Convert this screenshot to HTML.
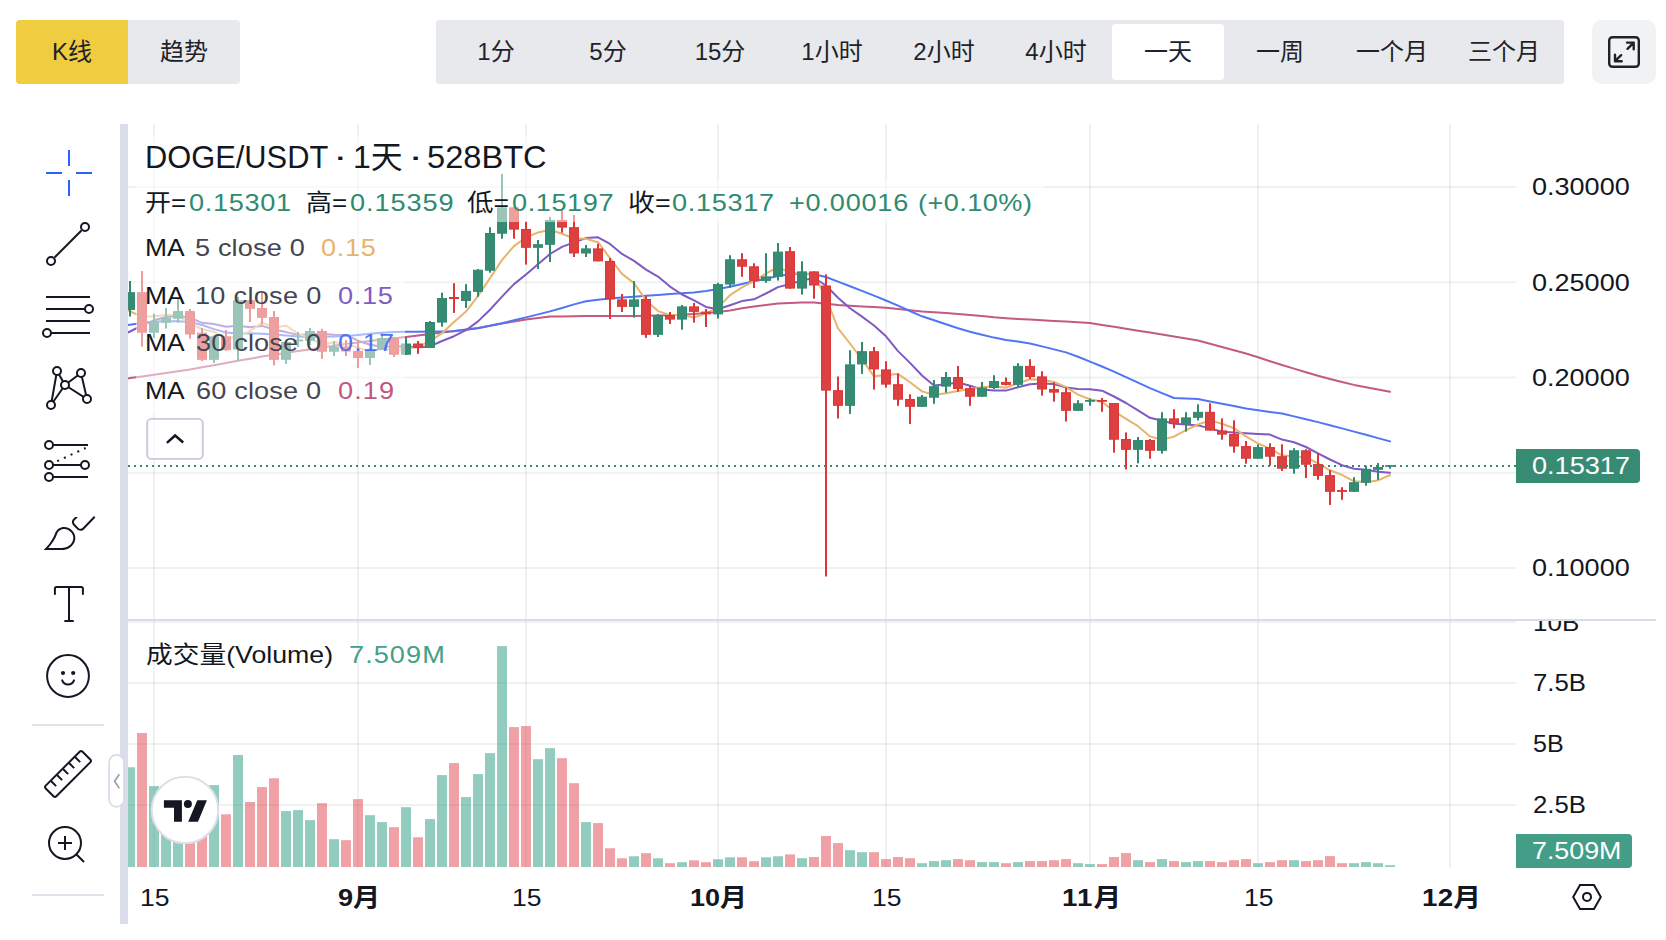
<!DOCTYPE html>
<html lang="zh"><head><meta charset="utf-8"><title>DOGE/USDT</title>
<style>
html,body{margin:0;padding:0;background:#fff}
body{width:1666px;height:940px;position:relative;overflow:hidden;font-family:"Liberation Sans","Noto Sans CJK SC",sans-serif}
.t{position:absolute;white-space:nowrap;line-height:1.149;transform-origin:0 0}
.tc{text-align:center}
.grp{position:absolute;display:flex;background:#e8e9ed;border-radius:4px;}
.btn{height:64px;box-sizing:border-box;padding-bottom:0px;display:flex;align-items:center;justify-content:center;font-size:24px;line-height:28px;color:#1e2329;position:relative}
.sel{position:absolute;left:0;top:4px;width:112px;height:56px;box-sizing:border-box;padding-bottom:0px;background:#fff;border-radius:4px;display:flex;align-items:center;justify-content:center}
svg{display:block}
</style></head><body>
<div class="grp" style="left:16px;top:20px;width:224px;height:64px"><div class="btn" style="width:112px;background:#f0cc40;border-radius:4px 0 0 4px">K线</div><div class="btn" style="width:112px">趋势</div></div><div class="grp" style="left:436px;top:20px;width:1128px;height:64px;padding:0 4px;box-sizing:border-box"><div class="btn" style="width:112px">1分</div><div class="btn" style="width:112px">5分</div><div class="btn" style="width:112px">15分</div><div class="btn" style="width:112px">1小时</div><div class="btn" style="width:112px">2小时</div><div class="btn" style="width:112px">4小时</div><div class="btn" style="width:112px"><span class="sel">一天</span></div><div class="btn" style="width:112px">一周</div><div class="btn" style="width:112px">一个月</div><div class="btn" style="width:112px">三个月</div></div><div style="position:absolute;left:1592px;top:20px;width:64px;height:64px;border-radius:10px;background:#f1f2f4"><svg width="64" height="64" viewBox="0 0 64 64" style="position:absolute;left:0;top:0"><g fill="none" stroke="#1e2329" stroke-width="2.4" stroke-linecap="round" stroke-linejoin="round"><rect x="17.2" y="17.2" width="29.6" height="29.6" rx="3.2"/><path d="M35.5 28.8L41.7 22.6M35 22.6H41.7V29.3"/><path d="M29.2 35.2L23 41.2M23 34.8V41.2H29.7"/></g></svg></div>
<svg width="1666" height="940" viewBox="0 0 1666 940" style="position:absolute;left:0;top:0">
<defs><clipPath id="pane"><rect x="128" y="124" width="1388" height="744"/></clipPath></defs>
<rect x="128" y="186.0" width="1388" height="2" fill="rgba(0,35,35,0.058)"/>
<rect x="128" y="281.2" width="1388" height="2" fill="rgba(0,35,35,0.058)"/>
<rect x="128" y="376.5" width="1388" height="2" fill="rgba(0,35,35,0.058)"/>
<rect x="128" y="471.8" width="1388" height="2" fill="rgba(0,35,35,0.058)"/>
<rect x="128" y="567.0" width="1388" height="2" fill="rgba(0,35,35,0.058)"/>
<rect x="128" y="621.0" width="1388" height="2" fill="rgba(0,35,35,0.058)"/>
<rect x="128" y="682.0" width="1388" height="2" fill="rgba(0,35,35,0.058)"/>
<rect x="128" y="743.0" width="1388" height="2" fill="rgba(0,35,35,0.058)"/>
<rect x="128" y="804.0" width="1388" height="2" fill="rgba(0,35,35,0.058)"/>
<rect x="153" y="124" width="2" height="744" fill="rgba(0,35,35,0.058)"/>
<rect x="357" y="124" width="2" height="744" fill="rgba(0,35,35,0.058)"/>
<rect x="525" y="124" width="2" height="744" fill="rgba(0,35,35,0.058)"/>
<rect x="717" y="124" width="2" height="744" fill="rgba(0,35,35,0.058)"/>
<rect x="885" y="124" width="2" height="744" fill="rgba(0,35,35,0.058)"/>
<rect x="1089" y="124" width="2" height="744" fill="rgba(0,35,35,0.058)"/>
<rect x="1257" y="124" width="2" height="744" fill="rgba(0,35,35,0.058)"/>
<rect x="1449" y="124" width="2" height="744" fill="rgba(0,35,35,0.058)"/>
<g clip-path="url(#pane)">
<polyline points="118,379.9 130,378.1 142,376.4 154,374.7 166,373.0 178,371.3 190,369.5 202,367.3 214,365.2 226,363.0 238,360.8 250,358.7 262,356.6 274,354.7 286,352.9 298,351.1 310,349.4 322,347.6 334,345.8 346,344.0 358,342.5 370,341.0 382,339.6 394,338.2 406,336.9 418,335.5 430,334.1 442,332.6 454,331.1 466,329.5 478,328.0 490,325.8 502,323.6 514,321.5 526,319.5 538,318.0 550,316.6 562,316.4 574,316.2 586,316.1 598,316.1 610,316.0 622,316.0 634,316.0 646,315.7 658,315.5 670,315.2 682,314.7 694,313.9 706,313.0 718,311.9 730,310.4 742,308.3 754,306.4 766,305.0 778,303.6 790,303.0 802,302.6 814,302.4 826,303.7 838,304.9 850,305.7 862,306.4 874,307.0 886,307.8 898,309.0 910,310.2 922,311.4 934,312.2 946,313.0 958,313.9 970,314.9 982,316.1 994,317.3 1006,318.2 1018,318.9 1030,319.6 1042,320.3 1054,321.0 1066,321.6 1078,322.3 1090,323.0 1102,324.9 1114,326.8 1126,328.8 1138,330.7 1150,332.6 1162,334.5 1174,336.5 1186,338.4 1198,340.5 1210,343.8 1222,347.0 1234,350.3 1246,353.5 1258,357.3 1270,361.2 1282,365.0 1294,368.6 1306,372.2 1318,375.8 1330,379.0 1342,382.0 1354,384.9 1366,387.3 1378,389.6 1390,391.8" fill="none" stroke="#c35a84" stroke-width="2" stroke-linejoin="round" stroke-linecap="round"/>
<polyline points="118,326.5 130,324.8 142,323.0 154,321.6 166,321.2 178,321.3 190,322.0 202,325.0 214,329.1 226,332.5 238,333.5 250,333.3 262,333.8 274,334.4 286,335.4 298,336.6 310,336.9 322,336.8 334,336.4 346,335.9 358,334.9 370,333.8 382,332.8 394,332.1 406,331.7 418,331.7 430,331.6 442,331.5 454,331.2 466,329.7 478,328.2 490,325.8 502,323.2 514,320.3 526,317.4 538,314.4 550,311.4 562,308.0 574,304.4 586,301.2 598,299.7 610,298.5 622,297.6 634,296.7 646,295.8 658,294.9 670,294.1 682,293.2 694,292.4 706,291.0 718,289.0 730,286.7 742,284.0 754,281.3 766,278.7 778,276.1 790,274.3 802,273.6 814,274.2 826,277.0 838,281.6 850,286.2 862,290.9 874,295.6 886,300.5 898,305.7 910,311.0 922,316.3 934,320.3 946,324.3 958,328.3 970,331.7 982,334.7 994,337.6 1006,339.9 1018,341.6 1030,343.5 1042,346.4 1054,349.4 1066,352.4 1078,356.7 1090,361.6 1102,366.5 1114,371.6 1126,377.1 1138,382.6 1150,388.1 1162,393.1 1174,398.0 1186,398.5 1198,399.0 1210,401.4 1222,403.8 1234,406.1 1246,408.5 1258,410.2 1270,411.9 1282,413.5 1294,416.4 1306,419.2 1318,422.1 1330,425.2 1342,428.4 1354,431.6 1366,434.8 1378,438.1 1390,441.4" fill="none" stroke="#5076f5" stroke-width="2" stroke-linejoin="round" stroke-linecap="round"/>
<polyline points="118,337.0 130,331.5 142,325.5 154,320.3 166,317.0 178,315.9 190,317.6 202,322.8 214,324.1 226,326.8 238,325.7 250,327.3 262,325.9 274,329.6 286,332.1 298,334.9 310,334.6 322,333.8 334,334.8 346,334.9 358,340.7 370,344.8 382,346.8 394,346.3 406,346.4 418,347.3 430,346.4 442,341.0 454,336.2 466,330.2 478,321.4 490,309.7 502,296.6 514,284.1 526,274.5 538,264.2 550,254.0 562,246.9 574,242.4 586,238.1 598,237.3 610,243.9 622,253.9 634,260.9 646,269.6 658,276.6 670,286.6 682,294.5 694,300.3 706,306.9 718,309.2 730,305.2 742,301.1 754,299.3 766,293.5 778,287.1 790,284.0 802,280.5 814,277.9 826,285.5 838,297.7 850,308.2 862,316.6 874,325.5 886,336.3 898,351.1 910,362.9 922,375.5 934,385.5 946,384.2 958,382.5 970,385.7 982,389.4 994,390.5 1006,390.6 1018,387.2 1030,384.2 1042,383.5 1054,384.1 1066,387.5 1078,388.9 1090,389.3 1102,390.7 1114,396.5 1126,403.0 1138,410.4 1150,417.8 1162,420.7 1174,423.8 1186,424.5 1198,425.4 1210,428.4 1222,431.7 1234,432.4 1246,433.3 1258,434.0 1270,434.6 1282,439.6 1294,442.2 1306,447.0 1318,453.4 1330,459.5 1342,465.2 1354,468.8 1366,469.8 1378,471.8 1390,472.7" fill="none" stroke="#805ac2" stroke-width="2" stroke-linejoin="round" stroke-linecap="round"/>
<polyline points="118,306.7 130,311.5 142,316.5 154,316.3 166,315.1 178,315.1 190,323.6 202,329.0 214,331.9 226,338.4 238,336.2 250,331.1 262,322.7 274,327.4 286,325.7 298,333.6 310,338.0 322,344.8 334,342.2 346,344.1 358,347.8 370,351.5 382,348.8 394,350.4 406,348.8 418,346.8 430,341.2 442,333.2 454,322.1 466,311.6 478,295.9 490,278.1 502,260.0 514,246.1 526,237.5 538,232.4 550,229.8 562,233.8 574,238.6 586,238.7 598,242.2 610,258.1 622,273.9 634,283.1 646,300.4 658,311.1 670,315.1 682,315.0 694,317.5 706,313.4 718,307.3 730,295.2 742,287.3 754,281.1 766,273.5 778,267.0 790,272.8 802,273.8 814,274.7 826,297.5 838,328.4 850,343.5 862,359.5 874,376.3 886,375.1 898,373.9 910,382.3 922,391.4 934,394.8 946,393.3 958,391.1 970,389.1 982,387.3 994,386.3 1006,387.8 1018,383.2 1030,379.3 1042,379.7 1054,382.0 1066,387.2 1078,394.6 1090,399.2 1102,401.7 1114,411.1 1126,418.9 1138,426.2 1150,436.4 1162,439.7 1174,436.6 1186,430.1 1198,424.5 1210,420.4 1222,423.7 1234,428.2 1246,436.4 1258,443.5 1270,448.7 1282,455.5 1294,456.3 1306,457.5 1318,463.3 1330,470.3 1342,474.9 1354,481.3 1366,482.1 1378,480.4 1390,475.0" fill="none" stroke="#e8b46c" stroke-width="2" stroke-linejoin="round" stroke-linecap="round"/>
<rect x="129" y="281.0" width="2" height="35.5" fill="#318a70"/>
<rect x="125.5" y="292.7" width="9" height="16.7" fill="#388b73" stroke="#318a70" stroke-width="1"/>
<rect x="141" y="271.0" width="2" height="75.6" fill="#dc3636"/>
<rect x="137.5" y="292.7" width="9" height="39.5" fill="#dd4040" stroke="#dc3636" stroke-width="1"/>
<rect x="153" y="313.8" width="2" height="24.2" fill="#318a70"/>
<rect x="149.5" y="322.4" width="9" height="9.8" fill="#388b73" stroke="#318a70" stroke-width="1"/>
<rect x="165" y="308.0" width="2" height="20.6" fill="#318a70"/>
<rect x="161.5" y="318.3" width="9" height="4.0" fill="#388b73" stroke="#318a70" stroke-width="1"/>
<rect x="177" y="298.5" width="2" height="24.3" fill="#318a70"/>
<rect x="173.5" y="311.6" width="9" height="6.6" fill="#388b73" stroke="#318a70" stroke-width="1"/>
<rect x="189" y="309.0" width="2" height="29.7" fill="#dc3636"/>
<rect x="185.5" y="311.6" width="9" height="22.4" fill="#dd4040" stroke="#dc3636" stroke-width="1"/>
<rect x="201" y="328.0" width="2" height="33.0" fill="#dc3636"/>
<rect x="197.5" y="333.2" width="9" height="26.1" fill="#dd4040" stroke="#dc3636" stroke-width="1"/>
<rect x="213" y="335.4" width="2" height="27.6" fill="#318a70"/>
<rect x="209.5" y="336.8" width="9" height="22.5" fill="#388b73" stroke="#318a70" stroke-width="1"/>
<rect x="225" y="330.0" width="2" height="20.7" fill="#dc3636"/>
<rect x="221.5" y="336.8" width="9" height="12.9" fill="#dd4040" stroke="#dc3636" stroke-width="1"/>
<rect x="237" y="296.7" width="2" height="64.3" fill="#318a70"/>
<rect x="233.5" y="300.8" width="9" height="48.2" fill="#388b73" stroke="#318a70" stroke-width="1"/>
<rect x="249" y="299.4" width="2" height="22.5" fill="#dc3636"/>
<rect x="245.5" y="300.8" width="9" height="7.5" fill="#dd4040" stroke="#dc3636" stroke-width="1"/>
<rect x="261" y="292.0" width="2" height="32.6" fill="#dc3636"/>
<rect x="257.5" y="308.5" width="9" height="8.8" fill="#dd4040" stroke="#dc3636" stroke-width="1"/>
<rect x="273" y="311.0" width="2" height="54.5" fill="#dc3636"/>
<rect x="269.5" y="317.5" width="9" height="41.8" fill="#dd4040" stroke="#dc3636" stroke-width="1"/>
<rect x="285" y="340.8" width="2" height="23.1" fill="#318a70"/>
<rect x="281.5" y="342.5" width="9" height="16.8" fill="#388b73" stroke="#318a70" stroke-width="1"/>
<rect x="297" y="332.0" width="2" height="15.0" fill="#318a70"/>
<rect x="293.5" y="340.1" width="9" height="0.8" fill="#388b73" stroke="#318a70" stroke-width="1"/>
<rect x="309" y="328.0" width="2" height="17.0" fill="#318a70"/>
<rect x="305.5" y="331.5" width="9" height="8.8" fill="#388b73" stroke="#318a70" stroke-width="1"/>
<rect x="321" y="328.8" width="2" height="30.1" fill="#dc3636"/>
<rect x="317.5" y="331.5" width="9" height="19.7" fill="#dd4040" stroke="#dc3636" stroke-width="1"/>
<rect x="333" y="341.0" width="2" height="15.0" fill="#318a70"/>
<rect x="329.5" y="347.1" width="9" height="4.1" fill="#388b73" stroke="#318a70" stroke-width="1"/>
<rect x="345" y="340.0" width="2" height="16.0" fill="#dc3636"/>
<rect x="341.5" y="347.1" width="9" height="3.9" fill="#dd4040" stroke="#dc3636" stroke-width="1"/>
<rect x="357" y="340.8" width="2" height="27.1" fill="#dc3636"/>
<rect x="353.5" y="351.5" width="9" height="6.0" fill="#dd4040" stroke="#dc3636" stroke-width="1"/>
<rect x="369" y="348.0" width="2" height="17.0" fill="#318a70"/>
<rect x="365.5" y="350.3" width="9" height="7.2" fill="#388b73" stroke="#318a70" stroke-width="1"/>
<rect x="381" y="332.7" width="2" height="17.3" fill="#318a70"/>
<rect x="377.5" y="338.5" width="9" height="10.8" fill="#388b73" stroke="#318a70" stroke-width="1"/>
<rect x="393" y="337.0" width="2" height="20.0" fill="#dc3636"/>
<rect x="389.5" y="338.5" width="9" height="15.7" fill="#dd4040" stroke="#dc3636" stroke-width="1"/>
<rect x="405" y="337.0" width="2" height="18.0" fill="#318a70"/>
<rect x="401.5" y="344.0" width="9" height="10.2" fill="#388b73" stroke="#318a70" stroke-width="1"/>
<rect x="417" y="341.0" width="2" height="12.8" fill="#dc3636"/>
<rect x="413.5" y="344.0" width="9" height="3.5" fill="#dd4040" stroke="#dc3636" stroke-width="1"/>
<rect x="429" y="321.0" width="2" height="27.0" fill="#318a70"/>
<rect x="425.5" y="322.5" width="9" height="24.9" fill="#388b73" stroke="#318a70" stroke-width="1"/>
<rect x="441" y="292.7" width="2" height="34.0" fill="#318a70"/>
<rect x="437.5" y="298.5" width="9" height="23.6" fill="#388b73" stroke="#318a70" stroke-width="1"/>
<rect x="453" y="283.2" width="2" height="29.7" fill="#dc3636"/>
<rect x="449.5" y="297.5" width="9" height="1.0" fill="#dd4040" stroke="#dc3636" stroke-width="1"/>
<rect x="465" y="284.2" width="2" height="23.7" fill="#318a70"/>
<rect x="461.5" y="291.4" width="9" height="9.1" fill="#388b73" stroke="#318a70" stroke-width="1"/>
<rect x="477" y="269.0" width="2" height="27.7" fill="#318a70"/>
<rect x="473.5" y="270.2" width="9" height="21.2" fill="#388b73" stroke="#318a70" stroke-width="1"/>
<rect x="489" y="227.2" width="2" height="45.5" fill="#318a70"/>
<rect x="485.5" y="233.5" width="9" height="36.7" fill="#388b73" stroke="#318a70" stroke-width="1"/>
<rect x="501" y="174.0" width="2" height="64.7" fill="#318a70"/>
<rect x="497.5" y="207.9" width="9" height="25.3" fill="#388b73" stroke="#318a70" stroke-width="1"/>
<rect x="513" y="207.4" width="2" height="31.3" fill="#dc3636"/>
<rect x="509.5" y="207.9" width="9" height="21.2" fill="#dd4040" stroke="#dc3636" stroke-width="1"/>
<rect x="525" y="221.5" width="2" height="43.1" fill="#dc3636"/>
<rect x="521.5" y="229.5" width="9" height="17.8" fill="#dd4040" stroke="#dc3636" stroke-width="1"/>
<rect x="537" y="240.0" width="2" height="29.0" fill="#318a70"/>
<rect x="533.5" y="244.7" width="9" height="2.6" fill="#388b73" stroke="#318a70" stroke-width="1"/>
<rect x="549" y="217.0" width="2" height="45.0" fill="#318a70"/>
<rect x="545.5" y="220.5" width="9" height="23.8" fill="#388b73" stroke="#318a70" stroke-width="1"/>
<rect x="561" y="210.0" width="2" height="22.7" fill="#dc3636"/>
<rect x="557.5" y="220.5" width="9" height="6.6" fill="#dd4040" stroke="#dc3636" stroke-width="1"/>
<rect x="573" y="214.9" width="2" height="42.1" fill="#dc3636"/>
<rect x="569.5" y="227.7" width="9" height="25.3" fill="#dd4040" stroke="#dc3636" stroke-width="1"/>
<rect x="585" y="245.0" width="2" height="12.0" fill="#318a70"/>
<rect x="581.5" y="248.9" width="9" height="4.1" fill="#388b73" stroke="#318a70" stroke-width="1"/>
<rect x="597" y="243.8" width="2" height="17.6" fill="#dc3636"/>
<rect x="593.5" y="248.9" width="9" height="12.0" fill="#dd4040" stroke="#dc3636" stroke-width="1"/>
<rect x="609" y="258.0" width="2" height="61.0" fill="#dc3636"/>
<rect x="605.5" y="261.5" width="9" height="37.4" fill="#dd4040" stroke="#dc3636" stroke-width="1"/>
<rect x="621" y="294.0" width="2" height="18.0" fill="#dc3636"/>
<rect x="617.5" y="299.9" width="9" height="6.5" fill="#dd4040" stroke="#dc3636" stroke-width="1"/>
<rect x="633" y="281.0" width="2" height="36.6" fill="#318a70"/>
<rect x="629.5" y="299.9" width="9" height="6.5" fill="#388b73" stroke="#318a70" stroke-width="1"/>
<rect x="645" y="296.3" width="2" height="41.5" fill="#dc3636"/>
<rect x="641.5" y="299.5" width="9" height="34.8" fill="#dd4040" stroke="#dc3636" stroke-width="1"/>
<rect x="657" y="314.0" width="2" height="23.0" fill="#318a70"/>
<rect x="653.5" y="315.5" width="9" height="18.8" fill="#388b73" stroke="#318a70" stroke-width="1"/>
<rect x="669" y="312.0" width="2" height="12.0" fill="#dc3636"/>
<rect x="665.5" y="315.5" width="9" height="3.6" fill="#dd4040" stroke="#dc3636" stroke-width="1"/>
<rect x="681" y="305.0" width="2" height="24.7" fill="#318a70"/>
<rect x="677.5" y="306.9" width="9" height="12.2" fill="#388b73" stroke="#318a70" stroke-width="1"/>
<rect x="693" y="303.0" width="2" height="19.6" fill="#dc3636"/>
<rect x="689.5" y="306.9" width="9" height="4.5" fill="#dd4040" stroke="#dc3636" stroke-width="1"/>
<rect x="705" y="309.0" width="2" height="18.0" fill="#dc3636"/>
<rect x="701.5" y="312.1" width="9" height="1.7" fill="#dd4040" stroke="#dc3636" stroke-width="1"/>
<rect x="717" y="282.9" width="2" height="35.6" fill="#318a70"/>
<rect x="713.5" y="284.6" width="9" height="29.3" fill="#388b73" stroke="#318a70" stroke-width="1"/>
<rect x="729" y="255.2" width="2" height="32.4" fill="#318a70"/>
<rect x="725.5" y="259.8" width="9" height="24.2" fill="#388b73" stroke="#318a70" stroke-width="1"/>
<rect x="741" y="253.2" width="2" height="23.6" fill="#dc3636"/>
<rect x="737.5" y="259.8" width="9" height="6.4" fill="#dd4040" stroke="#dc3636" stroke-width="1"/>
<rect x="753" y="263.3" width="2" height="24.7" fill="#dc3636"/>
<rect x="749.5" y="266.8" width="9" height="13.6" fill="#dd4040" stroke="#dc3636" stroke-width="1"/>
<rect x="765" y="253.2" width="2" height="29.7" fill="#318a70"/>
<rect x="761.5" y="276.9" width="9" height="3.5" fill="#388b73" stroke="#318a70" stroke-width="1"/>
<rect x="777" y="243.0" width="2" height="37.5" fill="#318a70"/>
<rect x="773.5" y="252.1" width="9" height="24.2" fill="#388b73" stroke="#318a70" stroke-width="1"/>
<rect x="789" y="247.0" width="2" height="41.6" fill="#dc3636"/>
<rect x="785.5" y="251.7" width="9" height="36.4" fill="#dd4040" stroke="#dc3636" stroke-width="1"/>
<rect x="801" y="261.3" width="2" height="33.3" fill="#318a70"/>
<rect x="797.5" y="271.9" width="9" height="16.2" fill="#388b73" stroke="#318a70" stroke-width="1"/>
<rect x="813" y="271.4" width="2" height="27.3" fill="#dc3636"/>
<rect x="809.5" y="271.9" width="9" height="13.1" fill="#dd4040" stroke="#dc3636" stroke-width="1"/>
<rect x="825" y="274.4" width="2" height="302.1" fill="#dc3636"/>
<rect x="821.5" y="286.0" width="9" height="104.1" fill="#dd4040" stroke="#dc3636" stroke-width="1"/>
<rect x="837" y="376.5" width="2" height="42.0" fill="#dc3636"/>
<rect x="833.5" y="390.7" width="9" height="14.6" fill="#dd4040" stroke="#dc3636" stroke-width="1"/>
<rect x="849" y="350.2" width="2" height="63.7" fill="#318a70"/>
<rect x="845.5" y="364.9" width="9" height="40.4" fill="#388b73" stroke="#318a70" stroke-width="1"/>
<rect x="861" y="342.0" width="2" height="31.9" fill="#318a70"/>
<rect x="857.5" y="351.7" width="9" height="12.2" fill="#388b73" stroke="#318a70" stroke-width="1"/>
<rect x="873" y="347.0" width="2" height="42.6" fill="#dc3636"/>
<rect x="869.5" y="351.7" width="9" height="17.2" fill="#dd4040" stroke="#dc3636" stroke-width="1"/>
<rect x="885" y="361.3" width="2" height="26.3" fill="#dc3636"/>
<rect x="881.5" y="369.9" width="9" height="14.2" fill="#dd4040" stroke="#dc3636" stroke-width="1"/>
<rect x="897" y="373.5" width="2" height="32.3" fill="#dc3636"/>
<rect x="893.5" y="384.7" width="9" height="14.5" fill="#dd4040" stroke="#dc3636" stroke-width="1"/>
<rect x="909" y="394.3" width="2" height="29.7" fill="#dc3636"/>
<rect x="905.5" y="399.5" width="9" height="6.8" fill="#dd4040" stroke="#dc3636" stroke-width="1"/>
<rect x="921" y="395.0" width="2" height="11.8" fill="#318a70"/>
<rect x="917.5" y="397.2" width="9" height="9.1" fill="#388b73" stroke="#318a70" stroke-width="1"/>
<rect x="933" y="380.0" width="2" height="23.8" fill="#318a70"/>
<rect x="929.5" y="386.7" width="9" height="10.5" fill="#388b73" stroke="#318a70" stroke-width="1"/>
<rect x="945" y="372.0" width="2" height="20.7" fill="#318a70"/>
<rect x="941.5" y="377.5" width="9" height="8.6" fill="#388b73" stroke="#318a70" stroke-width="1"/>
<rect x="957" y="366.0" width="2" height="25.7" fill="#dc3636"/>
<rect x="953.5" y="377.5" width="9" height="11.0" fill="#dd4040" stroke="#dc3636" stroke-width="1"/>
<rect x="969" y="385.6" width="2" height="20.2" fill="#dc3636"/>
<rect x="965.5" y="388.7" width="9" height="7.5" fill="#dd4040" stroke="#dc3636" stroke-width="1"/>
<rect x="981" y="382.0" width="2" height="14.7" fill="#318a70"/>
<rect x="977.5" y="388.1" width="9" height="8.1" fill="#388b73" stroke="#318a70" stroke-width="1"/>
<rect x="993" y="375.2" width="2" height="13.8" fill="#318a70"/>
<rect x="989.5" y="381.5" width="9" height="6.0" fill="#388b73" stroke="#318a70" stroke-width="1"/>
<rect x="1005" y="377.4" width="2" height="8.1" fill="#dc3636"/>
<rect x="1001.5" y="382.5" width="9" height="1.9" fill="#dd4040" stroke="#dc3636" stroke-width="1"/>
<rect x="1017" y="363.2" width="2" height="23.7" fill="#318a70"/>
<rect x="1013.5" y="366.4" width="9" height="18.0" fill="#388b73" stroke="#318a70" stroke-width="1"/>
<rect x="1029" y="359.2" width="2" height="19.8" fill="#dc3636"/>
<rect x="1025.5" y="366.4" width="9" height="10.1" fill="#dd4040" stroke="#dc3636" stroke-width="1"/>
<rect x="1041" y="371.3" width="2" height="24.3" fill="#dc3636"/>
<rect x="1037.5" y="376.9" width="9" height="12.1" fill="#dd4040" stroke="#dc3636" stroke-width="1"/>
<rect x="1053" y="382.4" width="2" height="19.3" fill="#dc3636"/>
<rect x="1049.5" y="389.6" width="9" height="2.5" fill="#dd4040" stroke="#dc3636" stroke-width="1"/>
<rect x="1065" y="387.5" width="2" height="34.0" fill="#dc3636"/>
<rect x="1061.5" y="392.7" width="9" height="17.6" fill="#dd4040" stroke="#dc3636" stroke-width="1"/>
<rect x="1077" y="400.2" width="2" height="10.6" fill="#318a70"/>
<rect x="1073.5" y="403.8" width="9" height="6.5" fill="#388b73" stroke="#318a70" stroke-width="1"/>
<rect x="1089" y="398.6" width="2" height="7.1" fill="#318a70"/>
<rect x="1085.5" y="400.5" width="9" height="0.7" fill="#388b73" stroke="#318a70" stroke-width="1"/>
<rect x="1101" y="398.0" width="2" height="13.8" fill="#dc3636"/>
<rect x="1097.5" y="400.5" width="9" height="0.7" fill="#dd4040" stroke="#dc3636" stroke-width="1"/>
<rect x="1113" y="403.0" width="2" height="49.6" fill="#dc3636"/>
<rect x="1109.5" y="403.5" width="9" height="35.7" fill="#dd4040" stroke="#dc3636" stroke-width="1"/>
<rect x="1125" y="432.4" width="2" height="37.0" fill="#dc3636"/>
<rect x="1121.5" y="439.5" width="9" height="9.8" fill="#dd4040" stroke="#dc3636" stroke-width="1"/>
<rect x="1137" y="437.0" width="2" height="26.3" fill="#318a70"/>
<rect x="1133.5" y="440.5" width="9" height="8.8" fill="#388b73" stroke="#318a70" stroke-width="1"/>
<rect x="1149" y="439.0" width="2" height="19.7" fill="#dc3636"/>
<rect x="1145.5" y="440.5" width="9" height="9.8" fill="#dd4040" stroke="#dc3636" stroke-width="1"/>
<rect x="1161" y="412.2" width="2" height="41.4" fill="#318a70"/>
<rect x="1157.5" y="418.9" width="9" height="31.4" fill="#388b73" stroke="#318a70" stroke-width="1"/>
<rect x="1173" y="409.3" width="2" height="19.0" fill="#dc3636"/>
<rect x="1169.5" y="418.9" width="9" height="4.5" fill="#dd4040" stroke="#dc3636" stroke-width="1"/>
<rect x="1185" y="412.2" width="2" height="19.4" fill="#318a70"/>
<rect x="1181.5" y="417.9" width="9" height="5.5" fill="#388b73" stroke="#318a70" stroke-width="1"/>
<rect x="1197" y="404.3" width="2" height="16.2" fill="#318a70"/>
<rect x="1193.5" y="412.3" width="9" height="5.0" fill="#388b73" stroke="#318a70" stroke-width="1"/>
<rect x="1209" y="403.3" width="2" height="27.3" fill="#dc3636"/>
<rect x="1205.5" y="412.3" width="9" height="17.8" fill="#dd4040" stroke="#dc3636" stroke-width="1"/>
<rect x="1221" y="418.4" width="2" height="21.3" fill="#dc3636"/>
<rect x="1217.5" y="430.9" width="9" height="3.2" fill="#dd4040" stroke="#dc3636" stroke-width="1"/>
<rect x="1233" y="420.3" width="2" height="32.3" fill="#dc3636"/>
<rect x="1229.5" y="434.5" width="9" height="11.5" fill="#dd4040" stroke="#dc3636" stroke-width="1"/>
<rect x="1245" y="441.0" width="2" height="22.7" fill="#dc3636"/>
<rect x="1241.5" y="446.6" width="9" height="11.6" fill="#dd4040" stroke="#dc3636" stroke-width="1"/>
<rect x="1257" y="444.5" width="2" height="14.2" fill="#318a70"/>
<rect x="1253.5" y="447.6" width="9" height="10.6" fill="#388b73" stroke="#318a70" stroke-width="1"/>
<rect x="1269" y="443.2" width="2" height="22.5" fill="#dc3636"/>
<rect x="1265.5" y="447.6" width="9" height="8.6" fill="#dd4040" stroke="#dc3636" stroke-width="1"/>
<rect x="1281" y="444.3" width="2" height="26.6" fill="#dc3636"/>
<rect x="1277.5" y="456.7" width="9" height="11.5" fill="#dd4040" stroke="#dc3636" stroke-width="1"/>
<rect x="1293" y="448.2" width="2" height="25.5" fill="#318a70"/>
<rect x="1289.5" y="450.8" width="9" height="17.4" fill="#388b73" stroke="#318a70" stroke-width="1"/>
<rect x="1305" y="449.3" width="2" height="28.7" fill="#dc3636"/>
<rect x="1301.5" y="450.8" width="9" height="13.4" fill="#dd4040" stroke="#dc3636" stroke-width="1"/>
<rect x="1317" y="454.0" width="2" height="25.8" fill="#dc3636"/>
<rect x="1313.5" y="464.6" width="9" height="10.8" fill="#dd4040" stroke="#dc3636" stroke-width="1"/>
<rect x="1329" y="470.0" width="2" height="34.9" fill="#dc3636"/>
<rect x="1325.5" y="475.6" width="9" height="15.7" fill="#dd4040" stroke="#dc3636" stroke-width="1"/>
<rect x="1341" y="487.2" width="2" height="12.6" fill="#dc3636"/>
<rect x="1337.5" y="490.5" width="9" height="0.8" fill="#dd4040" stroke="#dc3636" stroke-width="1"/>
<rect x="1353" y="477.2" width="2" height="14.6" fill="#318a70"/>
<rect x="1349.5" y="482.7" width="9" height="8.6" fill="#388b73" stroke="#318a70" stroke-width="1"/>
<rect x="1365" y="465.7" width="2" height="20.0" fill="#318a70"/>
<rect x="1361.5" y="469.4" width="9" height="12.9" fill="#388b73" stroke="#318a70" stroke-width="1"/>
<rect x="1377" y="463.1" width="2" height="16.8" fill="#318a70"/>
<rect x="1373.5" y="467.6" width="9" height="1.7" fill="#388b73" stroke="#318a70" stroke-width="1"/>
<rect x="1389" y="465.2" width="2" height="3.5" fill="#318a70"/>
<rect x="1385.5" y="465.7" width="9" height="0.6" fill="#388b73" stroke="#318a70" stroke-width="1"/>
<rect x="125" y="767.3" width="10" height="99.7" fill="rgba(36,153,127,0.5)"/>
<rect x="137" y="733.0" width="10" height="134.0" fill="rgba(224,68,76,0.5)"/>
<rect x="149" y="786.1" width="10" height="80.9" fill="rgba(36,153,127,0.5)"/>
<rect x="161" y="800.0" width="10" height="67.0" fill="rgba(36,153,127,0.5)"/>
<rect x="173" y="795.0" width="10" height="72.0" fill="rgba(36,153,127,0.5)"/>
<rect x="185" y="802.0" width="10" height="65.0" fill="rgba(224,68,76,0.5)"/>
<rect x="197" y="812.0" width="10" height="55.0" fill="rgba(224,68,76,0.5)"/>
<rect x="209" y="785.1" width="10" height="81.9" fill="rgba(36,153,127,0.5)"/>
<rect x="221" y="814.3" width="10" height="52.7" fill="rgba(224,68,76,0.5)"/>
<rect x="233" y="755.0" width="10" height="112.0" fill="rgba(36,153,127,0.5)"/>
<rect x="245" y="802.0" width="10" height="65.0" fill="rgba(224,68,76,0.5)"/>
<rect x="257" y="787.1" width="10" height="79.9" fill="rgba(224,68,76,0.5)"/>
<rect x="269" y="778.3" width="10" height="88.7" fill="rgba(224,68,76,0.5)"/>
<rect x="281" y="811.1" width="10" height="55.9" fill="rgba(36,153,127,0.5)"/>
<rect x="293" y="810.1" width="10" height="56.9" fill="rgba(36,153,127,0.5)"/>
<rect x="305" y="820.1" width="10" height="46.9" fill="rgba(36,153,127,0.5)"/>
<rect x="317" y="803.2" width="10" height="63.8" fill="rgba(224,68,76,0.5)"/>
<rect x="329" y="839.2" width="10" height="27.8" fill="rgba(36,153,127,0.5)"/>
<rect x="341" y="840.2" width="10" height="26.8" fill="rgba(224,68,76,0.5)"/>
<rect x="353" y="799.1" width="10" height="67.9" fill="rgba(224,68,76,0.5)"/>
<rect x="365" y="815.2" width="10" height="51.8" fill="rgba(36,153,127,0.5)"/>
<rect x="377" y="822.1" width="10" height="44.9" fill="rgba(36,153,127,0.5)"/>
<rect x="389" y="827.2" width="10" height="39.8" fill="rgba(224,68,76,0.5)"/>
<rect x="401" y="807.2" width="10" height="59.8" fill="rgba(36,153,127,0.5)"/>
<rect x="413" y="837.3" width="10" height="29.7" fill="rgba(224,68,76,0.5)"/>
<rect x="425" y="819.1" width="10" height="47.9" fill="rgba(36,153,127,0.5)"/>
<rect x="437" y="775.1" width="10" height="91.9" fill="rgba(36,153,127,0.5)"/>
<rect x="449" y="763.1" width="10" height="103.9" fill="rgba(224,68,76,0.5)"/>
<rect x="461" y="797.1" width="10" height="69.9" fill="rgba(36,153,127,0.5)"/>
<rect x="473" y="774.1" width="10" height="92.9" fill="rgba(36,153,127,0.5)"/>
<rect x="485" y="753.1" width="10" height="113.9" fill="rgba(36,153,127,0.5)"/>
<rect x="497" y="646.1" width="10" height="220.9" fill="rgba(36,153,127,0.5)"/>
<rect x="509" y="727.1" width="10" height="139.9" fill="rgba(224,68,76,0.5)"/>
<rect x="521" y="726.1" width="10" height="140.9" fill="rgba(224,68,76,0.5)"/>
<rect x="533" y="759.2" width="10" height="107.8" fill="rgba(36,153,127,0.5)"/>
<rect x="545" y="748.2" width="10" height="118.8" fill="rgba(36,153,127,0.5)"/>
<rect x="557" y="758.2" width="10" height="108.8" fill="rgba(224,68,76,0.5)"/>
<rect x="569" y="783.2" width="10" height="83.8" fill="rgba(224,68,76,0.5)"/>
<rect x="581" y="822.1" width="10" height="44.9" fill="rgba(36,153,127,0.5)"/>
<rect x="593" y="823.1" width="10" height="43.9" fill="rgba(224,68,76,0.5)"/>
<rect x="605" y="848.3" width="10" height="18.7" fill="rgba(224,68,76,0.5)"/>
<rect x="617" y="858.3" width="10" height="8.7" fill="rgba(224,68,76,0.5)"/>
<rect x="629" y="856.3" width="10" height="10.7" fill="rgba(36,153,127,0.5)"/>
<rect x="641" y="853.2" width="10" height="13.8" fill="rgba(224,68,76,0.5)"/>
<rect x="653" y="858.3" width="10" height="8.7" fill="rgba(36,153,127,0.5)"/>
<rect x="665" y="863.2" width="10" height="3.8" fill="rgba(224,68,76,0.5)"/>
<rect x="677" y="862.2" width="10" height="4.8" fill="rgba(36,153,127,0.5)"/>
<rect x="689" y="860.3" width="10" height="6.7" fill="rgba(224,68,76,0.5)"/>
<rect x="701" y="862.2" width="10" height="4.8" fill="rgba(224,68,76,0.5)"/>
<rect x="713" y="859.3" width="10" height="7.7" fill="rgba(36,153,127,0.5)"/>
<rect x="725" y="857.3" width="10" height="9.7" fill="rgba(36,153,127,0.5)"/>
<rect x="737" y="857.3" width="10" height="9.7" fill="rgba(224,68,76,0.5)"/>
<rect x="749" y="861.2" width="10" height="5.8" fill="rgba(224,68,76,0.5)"/>
<rect x="761" y="857.3" width="10" height="9.7" fill="rgba(36,153,127,0.5)"/>
<rect x="773" y="856.3" width="10" height="10.7" fill="rgba(36,153,127,0.5)"/>
<rect x="785" y="854.4" width="10" height="12.6" fill="rgba(224,68,76,0.5)"/>
<rect x="797" y="858.2" width="10" height="8.8" fill="rgba(36,153,127,0.5)"/>
<rect x="809" y="857.0" width="10" height="10.0" fill="rgba(224,68,76,0.5)"/>
<rect x="821" y="836.0" width="10" height="31.0" fill="rgba(224,68,76,0.5)"/>
<rect x="833" y="843.1" width="10" height="23.9" fill="rgba(224,68,76,0.5)"/>
<rect x="845" y="850.2" width="10" height="16.8" fill="rgba(36,153,127,0.5)"/>
<rect x="857" y="852.2" width="10" height="14.8" fill="rgba(36,153,127,0.5)"/>
<rect x="869" y="852.2" width="10" height="14.8" fill="rgba(224,68,76,0.5)"/>
<rect x="881" y="859.1" width="10" height="7.9" fill="rgba(224,68,76,0.5)"/>
<rect x="893" y="857.0" width="10" height="10.0" fill="rgba(224,68,76,0.5)"/>
<rect x="905" y="858.2" width="10" height="8.8" fill="rgba(224,68,76,0.5)"/>
<rect x="917" y="863.2" width="10" height="3.8" fill="rgba(36,153,127,0.5)"/>
<rect x="929" y="861.1" width="10" height="5.9" fill="rgba(36,153,127,0.5)"/>
<rect x="941" y="860.2" width="10" height="6.8" fill="rgba(36,153,127,0.5)"/>
<rect x="953" y="859.1" width="10" height="7.9" fill="rgba(224,68,76,0.5)"/>
<rect x="965" y="860.2" width="10" height="6.8" fill="rgba(224,68,76,0.5)"/>
<rect x="977" y="862.1" width="10" height="4.9" fill="rgba(36,153,127,0.5)"/>
<rect x="989" y="862.1" width="10" height="4.9" fill="rgba(36,153,127,0.5)"/>
<rect x="1001" y="863.2" width="10" height="3.8" fill="rgba(224,68,76,0.5)"/>
<rect x="1013" y="862.1" width="10" height="4.9" fill="rgba(36,153,127,0.5)"/>
<rect x="1025" y="861.1" width="10" height="5.9" fill="rgba(224,68,76,0.5)"/>
<rect x="1037" y="861.1" width="10" height="5.9" fill="rgba(224,68,76,0.5)"/>
<rect x="1049" y="860.2" width="10" height="6.8" fill="rgba(224,68,76,0.5)"/>
<rect x="1061" y="859.1" width="10" height="7.9" fill="rgba(224,68,76,0.5)"/>
<rect x="1073" y="863.2" width="10" height="3.8" fill="rgba(36,153,127,0.5)"/>
<rect x="1085" y="864.1" width="10" height="2.9" fill="rgba(36,153,127,0.5)"/>
<rect x="1097" y="864.1" width="10" height="2.9" fill="rgba(224,68,76,0.5)"/>
<rect x="1109" y="857.0" width="10" height="10.0" fill="rgba(224,68,76,0.5)"/>
<rect x="1121" y="853.1" width="10" height="13.9" fill="rgba(224,68,76,0.5)"/>
<rect x="1133" y="860.2" width="10" height="6.8" fill="rgba(36,153,127,0.5)"/>
<rect x="1145" y="862.1" width="10" height="4.9" fill="rgba(224,68,76,0.5)"/>
<rect x="1157" y="859.1" width="10" height="7.9" fill="rgba(36,153,127,0.5)"/>
<rect x="1169" y="861.1" width="10" height="5.9" fill="rgba(224,68,76,0.5)"/>
<rect x="1181" y="862.1" width="10" height="4.9" fill="rgba(36,153,127,0.5)"/>
<rect x="1193" y="861.1" width="10" height="5.9" fill="rgba(36,153,127,0.5)"/>
<rect x="1205" y="861.1" width="10" height="5.9" fill="rgba(224,68,76,0.5)"/>
<rect x="1217" y="862.1" width="10" height="4.9" fill="rgba(224,68,76,0.5)"/>
<rect x="1229" y="860.2" width="10" height="6.8" fill="rgba(224,68,76,0.5)"/>
<rect x="1241" y="859.1" width="10" height="7.9" fill="rgba(224,68,76,0.5)"/>
<rect x="1253" y="863.2" width="10" height="3.8" fill="rgba(36,153,127,0.5)"/>
<rect x="1265" y="862.1" width="10" height="4.9" fill="rgba(224,68,76,0.5)"/>
<rect x="1277" y="860.2" width="10" height="6.8" fill="rgba(224,68,76,0.5)"/>
<rect x="1289" y="860.2" width="10" height="6.8" fill="rgba(36,153,127,0.5)"/>
<rect x="1301" y="861.1" width="10" height="5.9" fill="rgba(224,68,76,0.5)"/>
<rect x="1313" y="860.2" width="10" height="6.8" fill="rgba(224,68,76,0.5)"/>
<rect x="1325" y="856.1" width="10" height="10.9" fill="rgba(224,68,76,0.5)"/>
<rect x="1337" y="863.2" width="10" height="3.8" fill="rgba(224,68,76,0.5)"/>
<rect x="1349" y="863.2" width="10" height="3.8" fill="rgba(36,153,127,0.5)"/>
<rect x="1361" y="862.1" width="10" height="4.9" fill="rgba(36,153,127,0.5)"/>
<rect x="1373" y="863.2" width="10" height="3.8" fill="rgba(36,153,127,0.5)"/>
<rect x="1385" y="865.2" width="10" height="1.8" fill="rgba(36,153,127,0.5)"/>
</g>
<line x1="128" y1="466" x2="1516" y2="466" stroke="#318a70" stroke-width="2" stroke-dasharray="2 4"/>
<rect x="136" y="136" width="422" height="44" fill="rgba(255,255,255,0.5)"/>
<rect x="136" y="180" width="908" height="42" fill="rgba(255,255,255,0.5)"/>
<rect x="136" y="222" width="252" height="48" fill="rgba(255,255,255,0.5)"/>
<rect x="136" y="270" width="269" height="48" fill="rgba(255,255,255,0.5)"/>
<rect x="136" y="318" width="269" height="48" fill="rgba(255,255,255,0.5)"/>
<rect x="136" y="366" width="269" height="48" fill="rgba(255,255,255,0.5)"/>
<rect x="128" y="619" width="1528" height="2" fill="#d9dbe8"/>
<path d="M1516 449h120a4 4 0 0 1 4 4v26a4 4 0 0 1-4 4h-120z" fill="#388b73"/>
<path d="M1516 834h112a4 4 0 0 1 4 4v26a4 4 0 0 1-4 4h-112z" fill="#449e87"/>
<rect x="120" y="124" width="8" height="800" fill="#dbdeea"/>
</svg>
<svg style="position:absolute;left:40px;top:144px" width="56" height="56" viewBox="0 0 28 28" fill="none" stroke="#2962ff" stroke-width="1" color="#2962ff"><path d="M14.5 3v8M14.5 18v8M3 14.5h8M18 14.5h8"/></svg>
<svg style="position:absolute;left:40px;top:216px" width="56" height="56" viewBox="0 0 28 28" fill="none" stroke="#131722" stroke-width="1" color="#131722"><path d="M7.27 20.73L20.73 7.27"/><circle cx="22.5" cy="5.5" r="2"/><circle cx="5.5" cy="22.5" r="2"/></svg>
<svg style="position:absolute;left:40px;top:288px" width="56" height="56" viewBox="0 0 28 28" fill="none" stroke="#131722" stroke-width="1" color="#131722"><path d="M3 4.5h22M3 10.5h19.5M3 16.5h22M5.5 22.5H25"/><circle cx="24.5" cy="10.5" r="2" fill="#fff"/><circle cx="3.5" cy="22.5" r="2" fill="#fff"/></svg>
<svg style="position:absolute;left:40px;top:360px" width="56" height="56" viewBox="0 0 28 28" fill="none" stroke="#131722" stroke-width="1" color="#131722"><path d="M5.5 22.5L8.5 5.5L12.5 12.5L5.5 22.5M12.5 12.5L20.5 6.5L23.5 19.5L12.5 12.5"/><circle cx="8.5" cy="5.5" r="2" fill="#fff"/><circle cx="5.5" cy="22.5" r="2" fill="#fff"/><circle cx="12.5" cy="12.5" r="2" fill="#fff"/><circle cx="20.5" cy="6.5" r="2" fill="#fff"/><circle cx="23.5" cy="19.5" r="2" fill="#fff"/></svg>
<svg style="position:absolute;left:40px;top:432px" width="56" height="56" viewBox="0 0 28 28" fill="none" stroke="#131722" stroke-width="1" color="#131722"><path d="M6.5 6.5H24M6.5 16.5H20.5M6.5 22.5H24"/><path d="M8.6 14.6L22.8 8" stroke-dasharray="1 2.7"/><circle cx="4.5" cy="6.5" r="2" fill="#fff"/><circle cx="4.5" cy="16.5" r="2" fill="#fff"/><circle cx="22.5" cy="16.5" r="2" fill="#fff"/><circle cx="4.5" cy="22.5" r="2" fill="#fff"/></svg>
<svg style="position:absolute;left:40px;top:504px" width="56" height="56" viewBox="0 0 28 28" fill="none" stroke="#131722" stroke-width="1" color="#131722"><g fill="currentColor" stroke="none" fill-rule="nonzero"><path d="M1.789 23l.859-.854.221-.228c.18-.19.38-.409.597-.655.619-.704 1.238-1.478 1.815-2.298.982-1.396 1.738-2.776 2.177-4.081 1.234-3.667 5.957-4.716 8.923-1.263 3.251 3.785-.037 9.38-5.379 9.38h-9.211zm9.211-1c4.544 0 7.272-4.642 4.621-7.728-2.45-2.853-6.225-2.015-7.216.931-.474 1.408-1.273 2.869-2.307 4.337-.599.852-1.241 1.653-1.882 2.383l-.068.078h6.853z"/><path d="M18.182 6.002l-1.419 1.286c-1.031.935-1.075 2.501-.096 3.48l1.877 1.877c.976.976 2.553.954 3.513-.045l5.65-5.874-.721-.693-5.65 5.874c-.574.596-1.507.609-2.086.031l-1.877-1.877c-.574-.574-.548-1.48.061-2.032l1.419-1.286-.672-.741z"/></g></svg>
<svg style="position:absolute;left:40px;top:576px" width="56" height="56" viewBox="0 0 28 28" fill="none" stroke="#131722" stroke-width="1" color="#131722"><path d="M7.45 9V6.3a.8 .8 0 0 1 .8-.8H20.65a.8 .8 0 0 1 .8 .8V9M14.5 5.5V22.45M12.55 22.45H16.5" stroke-linecap="round" stroke-linejoin="round"/></svg>
<svg style="position:absolute;left:40px;top:648px" width="56" height="56" viewBox="0 0 28 28" fill="none" stroke="#131722" stroke-width="1" color="#131722"><circle cx="14" cy="14" r="10.45"/><circle cx="11.5" cy="12.5" r="1.05" fill="currentColor" stroke="none"/><circle cx="16.6" cy="12.5" r="1.05" fill="currentColor" stroke="none"/><path d="M11.1 16.2C11.6 17.6 12.8 18.25 14.05 18.25S16.5 17.6 17 16.2" stroke-linecap="round"/></svg>
<svg style="position:absolute;left:40px;top:746px" width="56" height="56" viewBox="0 0 28 28" fill="none" stroke="#131722" stroke-width="1" color="#131722"><g transform="rotate(-45 14 14)"><rect x="1" y="10.25" width="26" height="7.5" rx="1"/><path d="M5.5 10.5v3.6M9.75 10.5v3.6M14 10.5v3.6M18.25 10.5v3.6M22.5 10.5v3.6"/></g></svg>
<svg style="position:absolute;left:40px;top:818px" width="56" height="56" viewBox="0 0 28 28" fill="none" stroke="#131722" stroke-width="1" color="#131722"><circle cx="12.5" cy="12.5" r="8"/><path d="M9 12.5h7M12.5 9v7M18 18l4 4"/></svg>
<div style="position:absolute;left:32px;top:724px;width:72px;height:2px;background:#e0e3eb"></div>
<div style="position:absolute;left:32px;top:894px;width:72px;height:2px;background:#e0e3eb"></div>
<svg style="position:absolute;left:100px;top:750px" width="30" height="62" viewBox="100 750 30 62"><rect x="109.1" y="754.9" width="14.9" height="51.9" rx="7.45" fill="#fff" stroke="#d8dbe8" stroke-width="1.8"/><path d="M119.3 774.2L114.6 781.3L119.3 788.4" fill="none" stroke="#9a9cab" stroke-width="1.7"/></svg>
<svg style="position:absolute;left:150px;top:775px" width="70" height="70" viewBox="150 775 70 70"><circle cx="185" cy="810" r="33.3" fill="#fff" stroke="#dcdeea" stroke-width="2"/><g fill="#131722"><path d="M163.9 800.2H181.9V821.7H174V807.8H163.9zM197.3 800.2H206.9L198 821.7H188.2z"/><circle cx="187.9" cy="803.9" r="4"/></g></svg>
<svg style="position:absolute;left:1567px;top:877px" width="40" height="40" viewBox="1567 877 40 40" fill="none" stroke="#131722" stroke-width="2" stroke-linejoin="miter"><path d="M1573.2 896.9L1580 884.9H1594L1600.8 896.9L1594 908.9H1580z"/><circle cx="1587" cy="896.9" r="4"/></svg>
<svg style="position:absolute;left:140px;top:412px" width="70" height="54" viewBox="140 412 70 54" fill="none"><rect x="147.2" y="418.9" width="55.6" height="40" rx="4.2" fill="rgba(255,255,255,0.6)" stroke="#c8cbd9" stroke-width="1.9"/><path d="M166.9 442.9L175.1 435.5L183.2 442.5" stroke="#131722" stroke-width="2.5" stroke-linejoin="miter"/></svg>
<div class="t" id="title" style="left:145.40px;top:140.46px;font-size:31.2px;color:#131722;letter-spacing:0.000px;font-weight:normal;transform:scaleX(0.9885);">DOGE/USDT</div>
<div class="t" id="tdot1" style="left:332.60px;top:139.46px;font-size:31.2px;color:#131722;letter-spacing:0.000px;font-weight:normal;transform:scaleX(1.4000);">·</div>
<div class="t" id="title2" style="left:353.40px;top:140.46px;font-size:31.2px;color:#131722;letter-spacing:0.000px;font-weight:normal;transform:scaleX(1.0222);">1天</div>
<div class="t" id="tdot2" style="left:407.90px;top:139.46px;font-size:31.2px;color:#131722;letter-spacing:0.000px;font-weight:normal;transform:scaleX(1.4667);">·</div>
<div class="t" id="title3" style="left:426.70px;top:140.46px;font-size:31.2px;color:#131722;letter-spacing:0.000px;font-weight:normal;transform:scaleX(1.0455);">528BTC</div>
<div class="t" id="o1" style="left:144.90px;top:188.88px;font-size:24px;color:#131722;letter-spacing:0.000px;font-weight:normal;transform:scaleX(1.0806);">开=</div>
<div class="t" id="o2" style="left:189.00px;top:188.88px;font-size:24px;color:#2e8b70;letter-spacing:0.583px;font-weight:normal;transform:scaleX(1.1300);">0.15301</div>
<div class="t" id="h1" style="left:306.30px;top:188.88px;font-size:24px;color:#131722;letter-spacing:0.000px;font-weight:normal;transform:scaleX(1.0806);">高=</div>
<div class="t" id="h2" style="left:350.30px;top:188.88px;font-size:24px;color:#2e8b70;letter-spacing:0.804px;font-weight:normal;transform:scaleX(1.1300);">0.15359</div>
<div class="t" id="l1" style="left:466.70px;top:188.88px;font-size:24px;color:#131722;letter-spacing:0.000px;font-weight:normal;transform:scaleX(1.1056);">低=</div>
<div class="t" id="l2" style="left:512.30px;top:188.88px;font-size:24px;color:#2e8b70;letter-spacing:0.509px;font-weight:normal;transform:scaleX(1.1300);">0.15197</div>
<div class="t" id="c1" style="left:627.50px;top:188.88px;font-size:24px;color:#131722;letter-spacing:0.000px;font-weight:normal;transform:scaleX(1.1200);">收=</div>
<div class="t" id="c2" style="left:672.40px;top:188.88px;font-size:24px;color:#2e8b70;letter-spacing:0.612px;font-weight:normal;transform:scaleX(1.1300);">0.15317</div>
<div class="t" id="c3" style="left:789.20px;top:188.88px;font-size:24px;color:#2e8b70;letter-spacing:0.686px;font-weight:normal;transform:scaleX(1.1300);">+0.00016</div>
<div class="t" id="c4" style="left:917.90px;top:188.88px;font-size:24px;color:#2e8b70;letter-spacing:0.398px;font-weight:normal;transform:scaleX(1.1300);">(+0.10%)</div>
<div class="t" id="ma0a" style="left:145.40px;top:233.98px;font-size:24px;color:#131722;letter-spacing:0.000px;font-weight:normal;transform:scaleX(1.1000);">MA</div>
<div class="t" id="ma0b" style="left:194.80px;top:233.98px;font-size:24px;color:#434651;letter-spacing:0.131px;font-weight:normal;transform:scaleX(1.1300);">5 close 0</div>
<div class="t" id="ma0c" style="left:321.30px;top:233.98px;font-size:24px;color:#e8b46c;letter-spacing:0.634px;font-weight:normal;transform:scaleX(1.1300);">0.15</div>
<div class="t" id="ma1a" style="left:145.40px;top:281.68px;font-size:24px;color:#131722;letter-spacing:0.000px;font-weight:normal;transform:scaleX(1.1000);">MA</div>
<div class="t" id="ma1b" style="left:195.00px;top:281.68px;font-size:24px;color:#434651;letter-spacing:0.258px;font-weight:normal;transform:scaleX(1.1300);">10 close 0</div>
<div class="t" id="ma1c" style="left:337.90px;top:281.68px;font-size:24px;color:#7e5cc4;letter-spacing:0.634px;font-weight:normal;transform:scaleX(1.1300);">0.15</div>
<div class="t" id="ma2a" style="left:145.40px;top:329.28px;font-size:24px;color:#131722;letter-spacing:0.000px;font-weight:normal;transform:scaleX(1.1000);">MA</div>
<div class="t" id="ma2b" style="left:196.00px;top:329.28px;font-size:24px;color:#434651;letter-spacing:0.147px;font-weight:normal;transform:scaleX(1.1300);">30 close 0</div>
<div class="t" id="ma2c" style="left:337.90px;top:329.28px;font-size:24px;color:#4f72f5;letter-spacing:0.968px;font-weight:normal;transform:scaleX(1.1300);">0.17</div>
<div class="t" id="ma3a" style="left:145.40px;top:377.18px;font-size:24px;color:#131722;letter-spacing:0.000px;font-weight:normal;transform:scaleX(1.1000);">MA</div>
<div class="t" id="ma3b" style="left:196.00px;top:377.18px;font-size:24px;color:#434651;letter-spacing:0.147px;font-weight:normal;transform:scaleX(1.1300);">60 close 0</div>
<div class="t" id="ma3c" style="left:337.90px;top:377.18px;font-size:24px;color:#c0577f;letter-spacing:0.968px;font-weight:normal;transform:scaleX(1.1300);">0.19</div>
<div class="t" id="vol1" style="left:146.30px;top:641.08px;font-size:24px;color:#131722;letter-spacing:0.000px;font-weight:normal;transform:scaleX(1.1133);">成交量(Volume)</div>
<div class="t" id="vol2" style="left:349.40px;top:641.08px;font-size:24px;color:#45a088;letter-spacing:0.936px;font-weight:normal;transform:scaleX(1.1300);">7.509M</div>
<div class="t" id="p30" style="left:1532.00px;top:173.43px;font-size:24.5px;color:#131722;letter-spacing:0.000px;font-weight:normal;transform:scaleX(1.1034);">0.30000</div>
<div class="t" id="p25" style="left:1532.00px;top:268.68px;font-size:24.5px;color:#131722;letter-spacing:0.000px;font-weight:normal;transform:scaleX(1.1034);">0.25000</div>
<div class="t" id="p20" style="left:1532.00px;top:363.93px;font-size:24.5px;color:#131722;letter-spacing:0.000px;font-weight:normal;transform:scaleX(1.1034);">0.20000</div>
<div class="t" id="p10" style="left:1532.00px;top:554.43px;font-size:24.5px;color:#131722;letter-spacing:0.000px;font-weight:normal;transform:scaleX(1.1034);">0.10000</div>
<div class="t" id="pcur" style="left:1532.00px;top:452.08px;font-size:24px;color:#ffffff;letter-spacing:0.000px;font-weight:normal;transform:scaleX(1.1294);">0.15317</div>
<div style="position:absolute;left:1516px;top:621px;width:140px;height:20px;overflow:hidden"><div class="t" style="left:16.5px;top:-12.12px;font-size:24px;color:#131722;transform:scaleX(1.085)">10B</div></div>
<div class="t" id="v75" style="left:1532.60px;top:669.48px;font-size:24px;color:#131722;letter-spacing:0.000px;font-weight:normal;transform:scaleX(1.0723);">7.5B</div>
<div class="t" id="v5" style="left:1532.60px;top:730.48px;font-size:24px;color:#131722;letter-spacing:0.000px;font-weight:normal;transform:scaleX(1.0444);">5B</div>
<div class="t" id="v25" style="left:1532.60px;top:791.48px;font-size:24px;color:#131722;letter-spacing:0.000px;font-weight:normal;transform:scaleX(1.0723);">2.5B</div>
<div class="t" id="vcur" style="left:1532.00px;top:837.08px;font-size:24px;color:#ffffff;letter-spacing:0.000px;font-weight:normal;transform:scaleX(1.1169);">7.509M</div>
<div class="t" id="tx0" style="left:139.80px;top:884.13px;font-size:24.5px;color:#131722;letter-spacing:0.000px;font-weight:normal;transform:scaleX(1.0833);">15</div>
<div class="t" id="tx1" style="left:338.05px;top:884.13px;font-size:24.5px;color:#131722;letter-spacing:0.000px;font-weight:bold;transform:scaleX(1.1061);">9月</div>
<div class="t" id="tx2" style="left:511.50px;top:884.13px;font-size:24.5px;color:#131722;letter-spacing:0.000px;font-weight:normal;transform:scaleX(1.0833);">15</div>
<div class="t" id="tx3" style="left:690.45px;top:884.13px;font-size:24.5px;color:#131722;letter-spacing:0.000px;font-weight:bold;transform:scaleX(1.1022);">10月</div>
<div class="t" id="tx4" style="left:871.50px;top:884.13px;font-size:24.5px;color:#131722;letter-spacing:0.000px;font-weight:normal;transform:scaleX(1.0833);">15</div>
<div class="t" id="tx5" style="left:1062.00px;top:884.13px;font-size:24.5px;color:#131722;letter-spacing:0.951px;font-weight:bold;transform:scaleX(1.1300);">11月</div>
<div class="t" id="tx6" style="left:1243.50px;top:884.13px;font-size:24.5px;color:#131722;letter-spacing:0.000px;font-weight:normal;transform:scaleX(1.0833);">15</div>
<div class="t" id="tx7" style="left:1422.05px;top:884.13px;font-size:24.5px;color:#131722;letter-spacing:0.230px;font-weight:bold;transform:scaleX(1.1300);">12月</div>
</body></html>
